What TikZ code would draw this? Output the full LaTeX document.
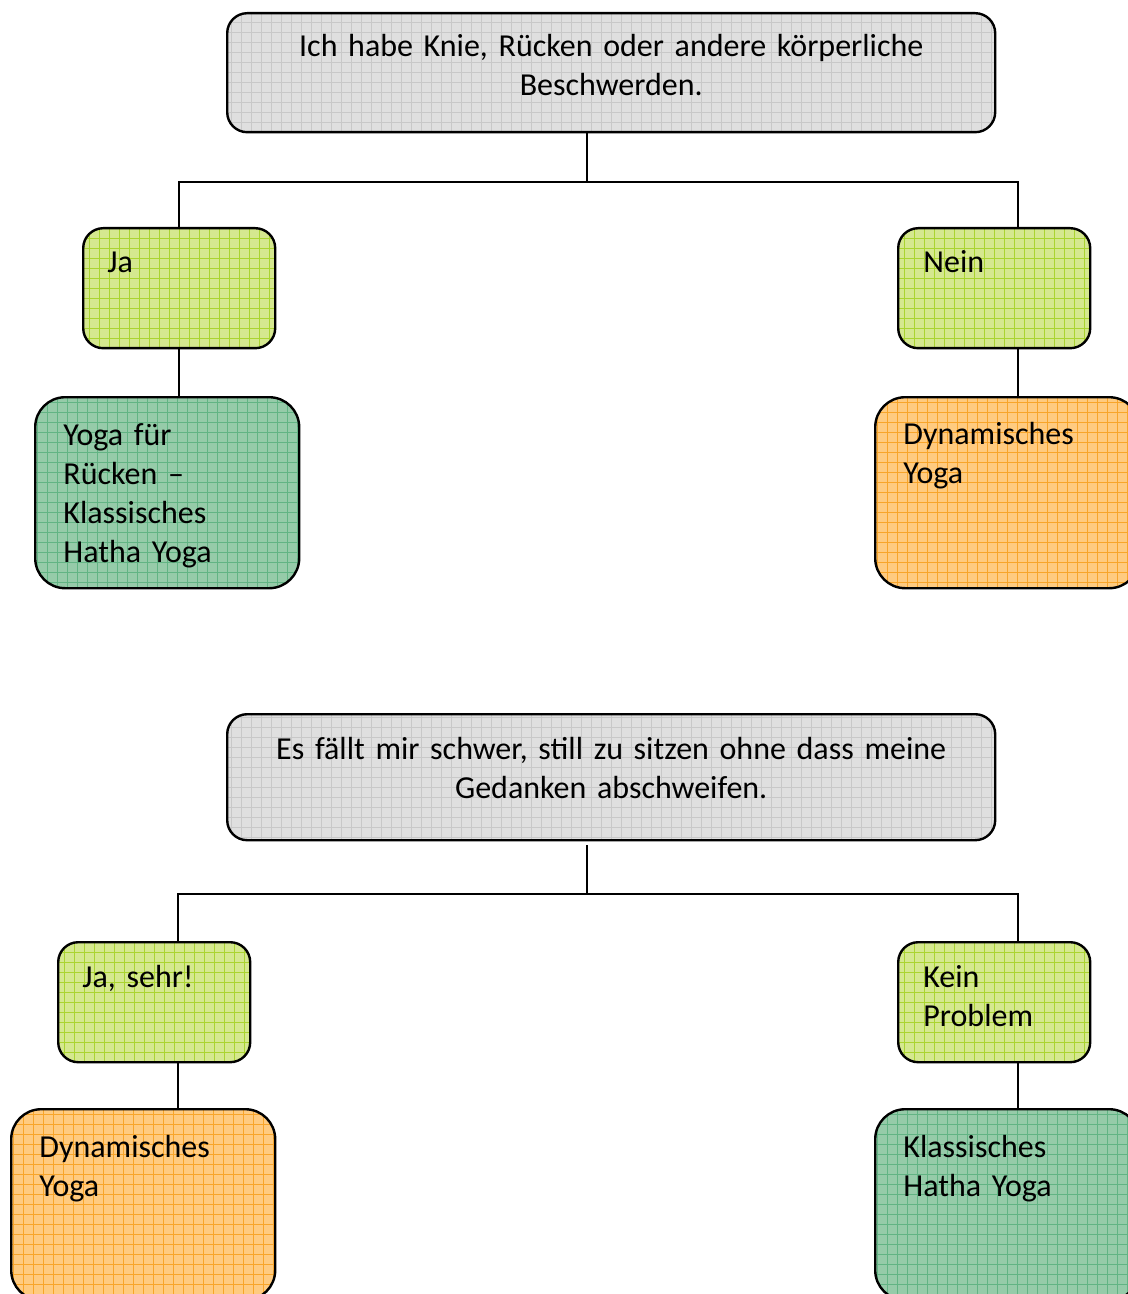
\documentclass[tikz,border=0pt]{standalone}
\usepackage{fontspec}
\setmainfont{Carlito}
\usetikzlibrary{positioning,calc}

\newcommand\yogafont{\fontsize{16}{19.5}\selectfont\spaceskip=2.1pt plus 1pt minus 0.5pt\relax}

\definecolor{frageFill}{HTML}{DFDFDF}
\definecolor{frageGrid}{HTML}{C8C8C8}
\definecolor{antwortFill}{HTML}{D5E88F}
\definecolor{antwortGrid}{HTML}{AAD430}
\definecolor{ruhigFill}{HTML}{96CBA9}
\definecolor{ruhigGrid}{HTML}{62B484}
\definecolor{dynFill}{HTML}{FFCB80}
\definecolor{dynGrid}{HTML}{F8A52A}

\begin{document}
\begin{tikzpicture}[x=0.5pt, y=-0.5pt,
    gridfill/.style={path picture={
        \draw[#1, line width=0.45pt, step=5pt]
          (path picture bounding box.south west) grid (path picture bounding box.north east);}},
    box/.style={draw=black, line width=1.2pt, inner sep=0pt, anchor=north west},
    frage/.style={box, fill=frageFill, gridfill=frageGrid, rounded corners=10pt,
        minimum width=384pt},
    antwort/.style={box, fill=antwortFill, gridfill=antwortGrid, rounded corners=10pt,
        minimum width=96pt, minimum height=60pt},
    ruhig/.style={box, fill=ruhigFill, gridfill=ruhigGrid, rounded corners=15pt,
        minimum width=132pt, minimum height=95.5pt},
    dyn/.style={box, fill=dynFill, gridfill=dynGrid, rounded corners=15pt,
        minimum width=132pt, minimum height=95.5pt},
    txt/.style={inner sep=0pt, anchor=base west, text width=130pt, align=left, font=\yogafont},
    fragetxt/.style={inner sep=0pt, anchor=base, text width=370pt, align=center, font=\yogafont},
    line/.style={draw=black, line width=1pt}]

  \useasboundingbox (0,0) rectangle (1128,1294);
  \clip (0,0) rectangle (1128,1294);

  % Frage 1
  \node[frage, minimum height=59.5pt] (q1) at (226,12) {};
  \node[fragetxt] (tq1) at ($(q1.north)+(0,45)$)
    {Ich habe Knie, Rücken oder andere körperliche\\Beschwerden.};

  \node[antwort] (ja) at (82,227) {};
  \node[txt] (tja) at ($(ja.north west)+(25,46)$) {Ja};
  \node[antwort] (nein) at (897,227) {};
  \node[txt] (tnein) at ($(nein.north west)+(26,46)$) {Nein};

  \node[ruhig] (ruecken) at (34,396) {};
  \node[txt] (truecken) at ($(ruecken.north west)+(29,49)$)
    {Yoga für\\Rücken --\\Klassisches\\Hatha Yoga};
  \node[dyn] (dyn1) at (874,396) {};
  \node[txt] (tdyn1) at ($(dyn1.north west)+(29,48)$) {Dynamisches\\Yoga};

  % Verbindungen 1
  \draw[line] ([xshift=-12pt]q1.south) -- ++(0,49) coordinate (k1);
  \draw[line] (ja.north) |- (k1) -| ([xshift=12pt]nein.north);
  \draw[line] (ja.south) -- (ja.south |- ruecken.north);
  \draw[line] ([xshift=12pt]nein.south) -- ([xshift=12pt]nein.south |- dyn1.north);

  % Frage 2
  \node[frage, minimum height=63pt] (q2) at (226,713) {};
  \node[fragetxt] (tq2) at ($(q2.north)+(0,46)$)
    {Es fällt mir schwer, still zu sitzen ohne dass meine\\Gedanken abschweifen.};

  \node[antwort] (jasehr) at (57,941) {};
  \node[txt] (tjasehr) at ($(jasehr.north west)+(25,46)$) {Ja, sehr!};
  \node[antwort] (kein) at (897,941) {};
  \node[txt] (tkein) at ($(kein.north west)+(26,46)$) {Kein\\Problem};

  \node[dyn] (dyn2) at (10,1108) {};
  \node[txt] (tdyn2) at ($(dyn2.north west)+(29,49)$) {Dynamisches\\Yoga};
  \node[ruhig] (hatha) at (874,1108) {};
  \node[txt] (thatha) at ($(hatha.north west)+(29,49)$) {Klassisches\\Hatha Yoga};

  % Verbindungen 2
  \draw[line] ([xshift=-12pt,yshift=-2pt]q2.south) -- ++(0,49) coordinate (k2);
  \draw[line] ([xshift=12pt]jasehr.north) |- (k2) -| ([xshift=12pt]kein.north);
  \draw[line] ([xshift=12pt]jasehr.south) -- ([xshift=12pt]jasehr.south |- dyn2.north);
  \draw[line] ([xshift=12pt]kein.south) -- ([xshift=12pt]kein.south |- hatha.north);
\end{tikzpicture}
\end{document}
